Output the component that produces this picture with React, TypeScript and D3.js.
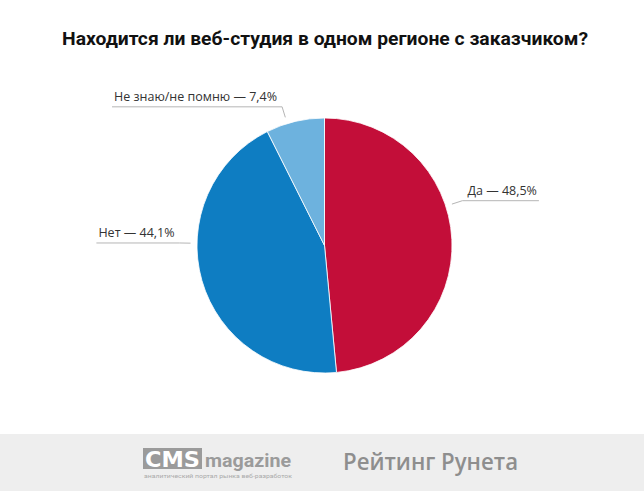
import React, { useEffect, useRef } from "react";
import * as d3 from "d3";

const title = "Находится ли веб-студия в одном регионе с заказчиком?";
const categories = ["Да", "Нет", "Не знаю/не помню"];
const values = [48.5, 44.1, 7.4];
const valueLabels = ["48,5%", "44,1%", "7,4%"];
const colors = ["#c30e39", "#0e7dc2", "#6db2de"];
// leader-line anchor angles (degrees, clockwise from top) and side
const labelAngles = [72, 271, 343];
const labelSides = [1, -1, -1];

const W = 644;
const H = 491;

export default function App() {
  const ref = useRef<SVGSVGElement | null>(null);

  useEffect(() => {
    const svg = d3.select(ref.current);
    svg.selectAll("*").remove();

    svg.append("rect").attr("x", 0).attr("y", 0).attr("width", W).attr("height", H).attr("fill", "#ffffff");

    svg
      .append("text")
      .attr("x", 325)
      .attr("y", 45)
      .attr("text-anchor", "middle")
      .attr("font-family", "Roboto, 'Open Sans', sans-serif")
      .attr("font-weight", 700)
      .attr("font-size", 18.5)
      .attr("fill", "#111")
      .attr("textLength", 526)
      .attr("lengthAdjust", "spacingAndGlyphs")
      .text(title);

    const cx = 324.5;
    const cy = 245.5;
    const r = 127.5;

    const pie = d3.pie<number>().sort(null).value((d) => d);
    const arcs = pie(values);
    const arc = d3.arc<d3.PieArcDatum<number>>().innerRadius(0).outerRadius(r);

    const g = svg.append("g").attr("transform", `translate(${cx},${cy})`);
    g.selectAll("path")
      .data(arcs)
      .enter()
      .append("path")
      .attr("d", arc as any)
      .attr("fill", (_d, i) => colors[i])
      .attr("stroke", "#ffffff")
      .attr("stroke-width", 0.8);

    const lg = svg.append("g");
    arcs.forEach((_a, i) => {
      const ang = (labelAngles[i] * Math.PI) / 180;
      const p1 = [cx + 134 * Math.sin(ang), cy - 134 * Math.cos(ang)];
      const p2 = [cx + 145 * Math.sin(ang), cy - 145 * Math.cos(ang)];
      const side = labelSides[i];
      const txt = lg
        .append("text")
        .attr("x", p2[0] + side * 5)
        .attr("y", p2[1] - 6)
        .attr("text-anchor", side > 0 ? "start" : "end")
        .attr("font-family", "'Open Sans', sans-serif")
        .attr("font-size", 12.5)
        .attr("fill", "#333")
        .text(`${categories[i]} — ${valueLabels[i]}`);
      const tw = (txt.node() as SVGTextElement).getComputedTextLength();
      const p3 = [p2[0] + side * (tw + 7), p2[1]];
      lg.append("path")
        .attr("d", d3.line()([p1 as [number, number], p2 as [number, number], p3 as [number, number]]) as string)
        .attr("fill", "none")
        .attr("stroke", "#b5b5b5")
        .attr("stroke-width", 1);
    });

    // footer
    const fy = 434;
    svg.append("rect").attr("x", 0).attr("y", fy).attr("width", W).attr("height", H - fy).attr("fill", "#eeeeee");
    svg.append("rect").attr("x", 143).attr("y", 448).attr("width", 59).attr("height", 21).attr("fill", "#9b9b9b");
    svg
      .append("text")
      .attr("x", 172.5)
      .attr("y", 467)
      .attr("text-anchor", "middle")
      .attr("font-family", "'DejaVu Sans', sans-serif")
      .attr("font-weight", 700)
      .attr("font-size", 22)
      .attr("fill", "#ffffff")
      .attr("textLength", 55)
      .attr("lengthAdjust", "spacingAndGlyphs")
      .text("CMS");
    svg
      .append("text")
      .attr("x", 205)
      .attr("y", 467)
      .attr("font-family", "Roboto, sans-serif")
      .attr("font-weight", 700)
      .attr("font-size", 19)
      .attr("fill", "#9b9b9b")
      .attr("textLength", 86)
      .attr("lengthAdjust", "spacingAndGlyphs")
      .text("magazine");
    svg
      .append("text")
      .attr("x", 144)
      .attr("y", 478)
      .attr("font-family", "Roboto, sans-serif")
      .attr("font-size", 5.5)
      .attr("fill", "#aaaaaa")
      .attr("textLength", 148)
      .attr("lengthAdjust", "spacingAndGlyphs")
      .text("аналитический портал рынка веб-разработок");
    svg
      .append("text")
      .attr("x", 343)
      .attr("y", 470)
      .attr("font-family", "'Open Sans', sans-serif")
      .attr("font-weight", 600)
      .attr("font-size", 24)
      .attr("fill", "#8e8e8e")
      .attr("textLength", 175)
      .attr("lengthAdjust", "spacingAndGlyphs")
      .text("Рейтинг Рунета");
  }, []);

  return (
    <svg
      ref={ref}
      width={W}
      height={H}
      style={{ position: "absolute", left: 0, top: 0, display: "block" }}
    />
  );
}
